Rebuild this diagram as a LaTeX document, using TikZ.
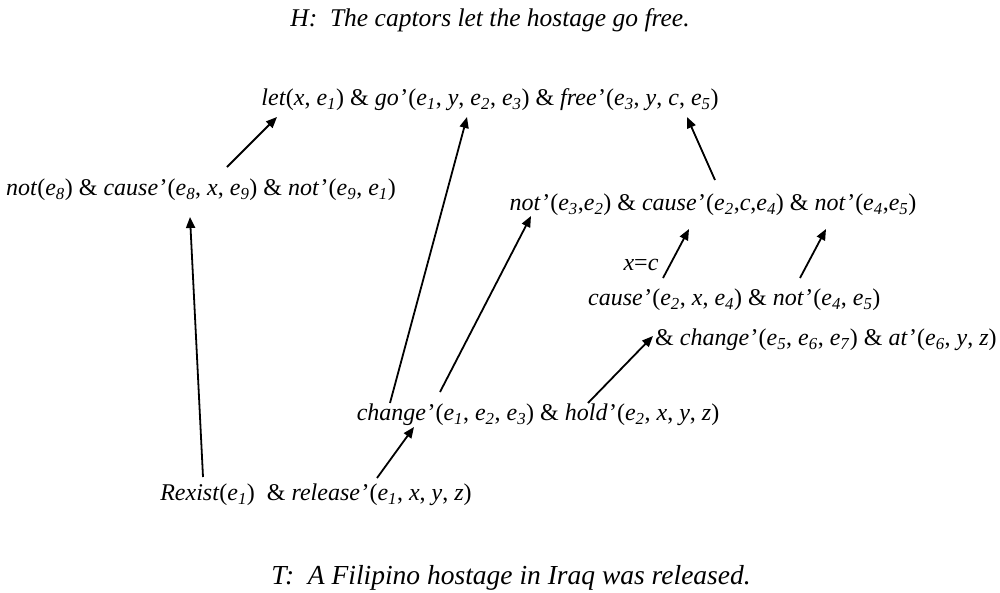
\documentclass[tikz,border=0pt]{standalone}
\usepackage{fontspec}
\setmainfont{Liberation Serif}
\usetikzlibrary{arrows.meta}
\newcommand{\ev}[1]{\textit{e}\textsubscript{\textit{#1}}}
\newcommand{\ti}[1]{\textit{#1}}
\newcommand{\pr}{\kern1.5pt'}
\begin{document}
\begin{tikzpicture}[x=1pt,y=-1pt,
  lbl/.style={inner sep=0pt,font=\fontsize{24}{26}\selectfont},
  sent/.style={inner sep=0pt,font=\fontsize{25.5}{28}\selectfont\itshape},
  arr/.style={line width=1.8pt,-{Triangle[length=11pt,width=9pt]}}]
\useasboundingbox[fill=white] (0,0) rectangle (1000,592);
\node[sent] (H) at (490,20) {H:\ \ The captors let the hostage go free.};
\node[lbl] (let) at (490,100) {\ti{let}(\ti{x}, \ev{1}) \& \ti{go}\pr(\ev{1}, \ti{y}, \ev{2}, \ev{3}) \& \ti{free}\pr(\ev{3}, \ti{y}, \ti{c}, \ev{5})};
\node[lbl] (noteight) at (201,190) {\ti{not}(\ev{8}) \& \ti{cause}\pr(\ev{8}, \ti{x}, \ev{9}) \& \ti{not}\pr(\ev{9}, \ev{1})};
\node[lbl] (notthree) at (713,205) {\ti{not}\pr(\ev{3},\ev{2}) \& \ti{cause}\pr(\ev{2},\ti{c},\ev{4}) \& \ti{not}\pr(\ev{4},\ev{5})};
\node[lbl] (xc) at (641,265) {\ti{x}=\ti{c}};
\node[lbl,anchor=west] (causetwo) at (588,300) {\ti{cause}\pr(\ev{2}, \ti{x}, \ev{4}) \& \ti{not}\pr(\ev{4}, \ev{5})};
\node[lbl,anchor=west] (changefive) at (655,340) {\& \ti{change}\pr(\ev{5}, \ev{6}, \ev{7}) \& \ti{at}\pr(\ev{6}, \ti{y}, \ti{z})};
\node[lbl] (changeone) at (538,415) {\ti{change}\pr(\ev{1}, \ev{2}, \ev{3}) \& \ti{hold}\pr(\ev{2}, \ti{x}, \ti{y}, \ti{z})};
\node[lbl] (rexist) at (316,495) {\ti{Rexist}(\ev{1})\ \ \& \ti{release}\pr(\ev{1}, \ti{x}, \ti{y}, \ti{z})};
\node[sent,font=\fontsize{27.5}{29}\selectfont\itshape] (T) at (511,578) {T:\ \ A Filipino hostage in Iraq was released.};
% arrow end points
\coordinate (a1s) at (227,167); \coordinate (a1e) at (277,117);
\coordinate (a2s) at (203,477); \coordinate (a2e) at (190,217);
\coordinate (a3s) at (390,403); \coordinate (a3e) at (467,117);
\coordinate (a4s) at (440,392); \coordinate (a4e) at (531,216);
\coordinate (a5s) at (377,478); \coordinate (a5e) at (414,427);
\coordinate (a6s) at (588,403); \coordinate (a6e) at (653,336);
\coordinate (a7s) at (663,278); \coordinate (a7e) at (689,229);
\coordinate (a8s) at (800,278); \coordinate (a8e) at (826,229);
\coordinate (a9s) at (715,180); \coordinate (a9e) at (687,117);
\foreach \i in {1,...,9} \draw[arr] (a\i s) -- (a\i e);
\end{tikzpicture}
\end{document}
